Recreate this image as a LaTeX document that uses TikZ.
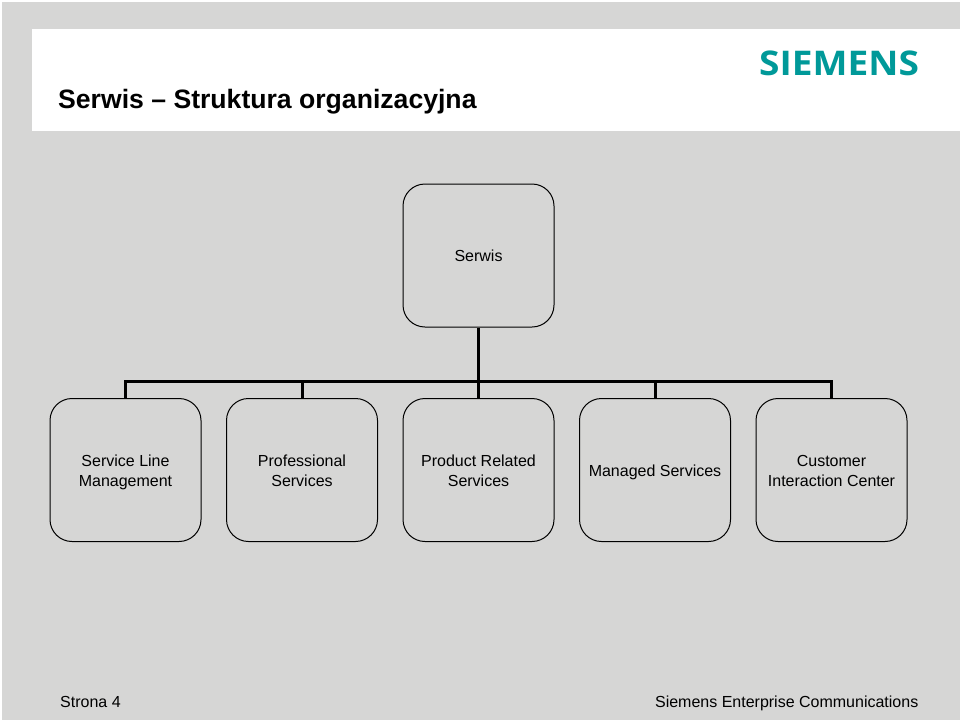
\documentclass[tikz,border=0pt]{standalone}
\usepackage{fontspec}
\setmainfont{Liberation Sans}
\newfontfamily\logofont{Open Sans}
\definecolor{pagegray}{HTML}{D6D6D5}
\definecolor{siemensteal}{HTML}{009999}
\newcommand{\boxline}[1]{\raisebox{-2.5pt}[\ht\strutbox][\dp\strutbox]{\strut #1}}
\tikzset{
  x=1pt,y=-1pt,
  orgbox/.style={draw=black,line width=1pt,rounded corners=22pt,minimum width=151pt,minimum height=143pt,inner sep=0pt,align=center,font=\fontsize{16}{19.5}\selectfont,text=black},
  link/.style={draw=black,line width=3pt},
  titletext/.style={anchor=base west,inner sep=0pt,font=\fontsize{26.6}{30}\selectfont\bfseries},
  foot/.style={inner sep=0pt,font=\fontsize{16}{19}\selectfont}
}
\begin{document}
\begin{tikzpicture}
\useasboundingbox (0,0) rectangle (960,720);
\fill[white] (0,0) rectangle (960,720);
\fill[pagegray] (2,2) rectangle (960,720);
\fill[white] (32,29) rectangle (960,131);
\node[titletext] (title) at (58,108) {Serwis – Struktura organizacyjna};
\node[anchor=base west,inner sep=0pt,text=siemensteal,font=\logofont\fontsize{34}{34}\selectfont\bfseries,xscale=1.09] (logo) at (759,75.5) {SIEMENS};
\node[orgbox] (top) at (478.5,255.5) {\boxline{Serwis}};
\node[orgbox] (a) at (125.5,470) {\boxline{Service Line}\\\boxline{Management}};
\node[orgbox] (b) at (302,470) {\boxline{Professional}\\\boxline{Services}};
\node[orgbox] (c) at (478.5,470) {\boxline{Product Related}\\\boxline{Services}};
\node[orgbox] (d) at (655,470) {\boxline{Managed Services}};
\node[orgbox] (e) at (831.5,470) {\boxline{Customer}\\\boxline{Interaction Center}};
\coordinate (bus) at (478.5,381);
\draw[link] (top.south) -- (bus);
\draw[link] (a.north) |- (bus);
\draw[link] (b.north) |- (bus);
\draw[link] (c.north) -- (bus);
\draw[link] (d.north) |- (bus);
\draw[link] (e.north) |- (bus);
\node[foot,anchor=base west] (page) at (60,707) {Strona 4};
\node[foot,anchor=base east] (company) at (918.5,707) {Siemens Enterprise Communications};
\end{tikzpicture}
\end{document}
